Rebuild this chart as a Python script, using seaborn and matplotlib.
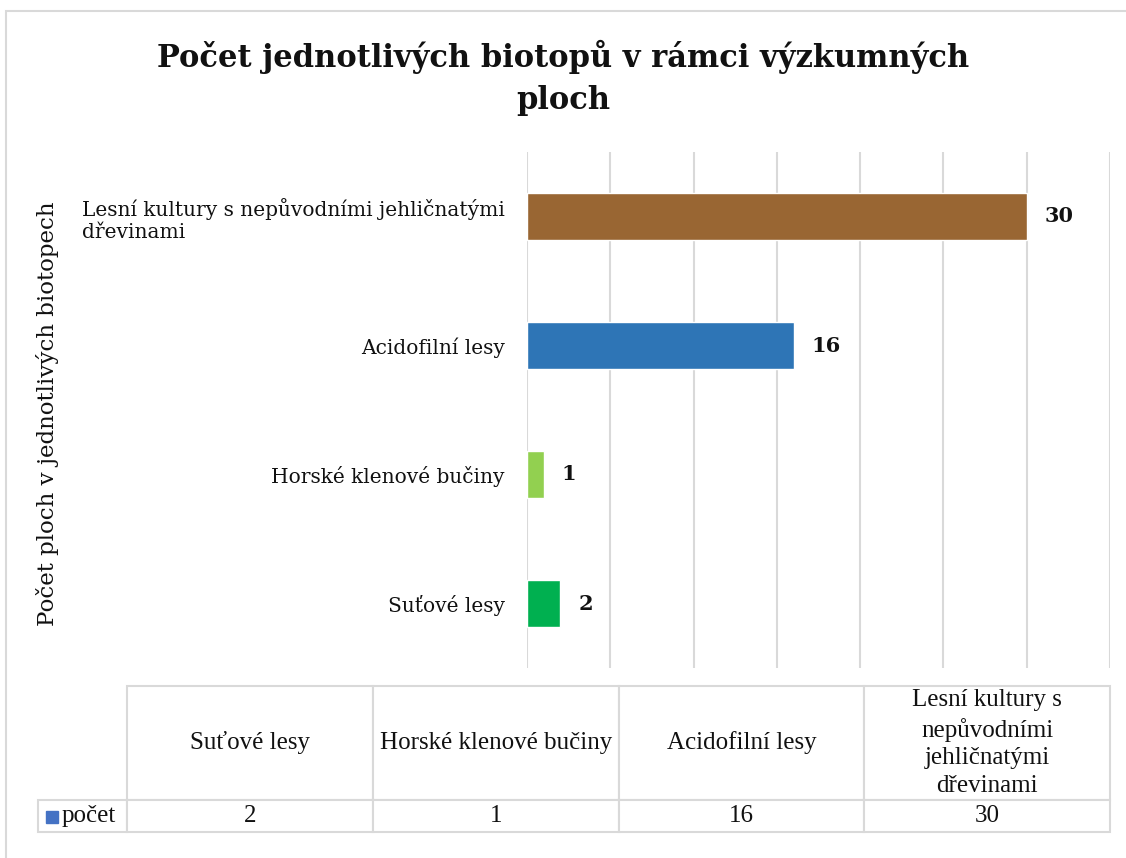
import matplotlib
matplotlib.use("Agg")
import matplotlib.pyplot as plt
import seaborn as sns
import pandas as pd
from matplotlib.patches import Rectangle
from matplotlib.table import Table

# chart data (bottom-to-top order as in the table)
categories = ["Suťové lesy", "Horské klenové bučiny", "Acidofilní lesy",
              "Lesní kultury s nepůvodními jehličnatými dřevinami"]
values = [2, 1, 16, 30]
bar_colors = ["#00B050", "#92D050", "#2E75B6", "#996633"]
axis_labels = ["Suťové lesy", "Horské klenové bučiny", "Acidofilní lesy",
               "Lesní kultury s nepůvodními jehličnatými\ndřevinami"]
table_headers = ["Suťové lesy", "Horské klenové bučiny", "Acidofilní lesy",
                 "Lesní kultury s\nnepůvodními\njehličnatými\ndřevinami"]
series_name = "počet"
series_color = "#4472C4"
title = "Počet jednotlivých biotopů v rámci výzkumných\nploch"
ylabel = "Počet ploch v jednotlivých biotopech"

sns.set_style("white")
plt.rcParams["font.family"] = ["DejaVu Serif"]

W, H = 1126, 858
fig = plt.figure(figsize=(W / 100, H / 100), dpi=100)


def fbox(x0, y0, x1, y1):
    return [x0 / W, 1 - y1 / H, (x1 - x0) / W, (y1 - y0) / H]


# outer chart frame
fig.patches.append(Rectangle((6 / W, -0.05), 1.1, 1 - 11 / H + 0.05,
                             transform=fig.transFigure, fill=False,
                             edgecolor="#d9d9d9", linewidth=1.5))

# bars: top category drawn first
df = pd.DataFrame({"cat": axis_labels[::-1], "val": values[::-1]})
ax = fig.add_axes(fbox(527, 152, 1110, 668))
sns.barplot(data=df, x="val", y="cat", hue="cat", palette=bar_colors[::-1],
            legend=False, width=0.36, ax=ax, saturation=1)
ax.set_xlim(0, 35)
ax.set_xticks(range(0, 36, 5))
ax.xaxis.grid(True, color="#d9d9d9", linewidth=1.5)
ax.set_axisbelow(True)
ax.tick_params(axis="x", labelbottom=False, length=0)
ax.tick_params(axis="y", length=0, labelsize=14.5, pad=16, colors="#111111")
for lab in ax.get_yticklabels():
    lab.set_multialignment("left")
for s in ax.spines.values():
    s.set_visible(False)
ax.set_xlabel("")
ax.set_ylabel("")
for c in ax.containers:
    ax.bar_label(c, fontsize=15, fontweight="bold", padding=13,
                 color="#111111")

fig.text(48 / W, 1 - 414 / H, ylabel, rotation=90, ha="center", va="center",
         fontsize=16.5, color="#111111")
fig.suptitle(title, y=1 - 40 / H, va="top", fontsize=22, fontweight="bold",
             linespacing=1.45, color="#111111")

# data table below the chart
tax = fig.add_axes(fbox(38, 686, 1110, 832))
tax.set_axis_off()
tab = Table(tax, bbox=[0, 0, 1, 1])
lab_w = (127 - 38) / (1110 - 38)
col_w = (1 - lab_w) / len(categories)
head_h = 114 / 146
tfont = {"family": "Liberation Serif", "size": 18, "color": "#111111"}
for j, hdr in enumerate(table_headers):
    cell = tab.add_cell(0, j + 1, col_w, head_h, text=hdr, loc="center",
                        edgecolor="#d9d9d9")
    cell.get_text().set(**tfont, linespacing=1.33)
    cell = tab.add_cell(1, j + 1, col_w, 1 - head_h, text=str(values[j]),
                        loc="center", edgecolor="#d9d9d9")
    cell.get_text().set(**tfont)
cell = tab.add_cell(1, 0, lab_w, 1 - head_h, text=series_name,
                    loc="left", edgecolor="#d9d9d9")
cell.PAD = 0.27
cell.get_text().set(**tfont)
for c in tab.get_celld().values():
    c.set_linewidth(1.5)
tab.auto_set_font_size(False)
tax.add_table(tab)
fig.patches.append(Rectangle((46 / W, 1 - 823 / H), 12 / W, 12 / H,
                             transform=fig.transFigure, color=series_color))

fig.savefig("out.png", dpi=100)
